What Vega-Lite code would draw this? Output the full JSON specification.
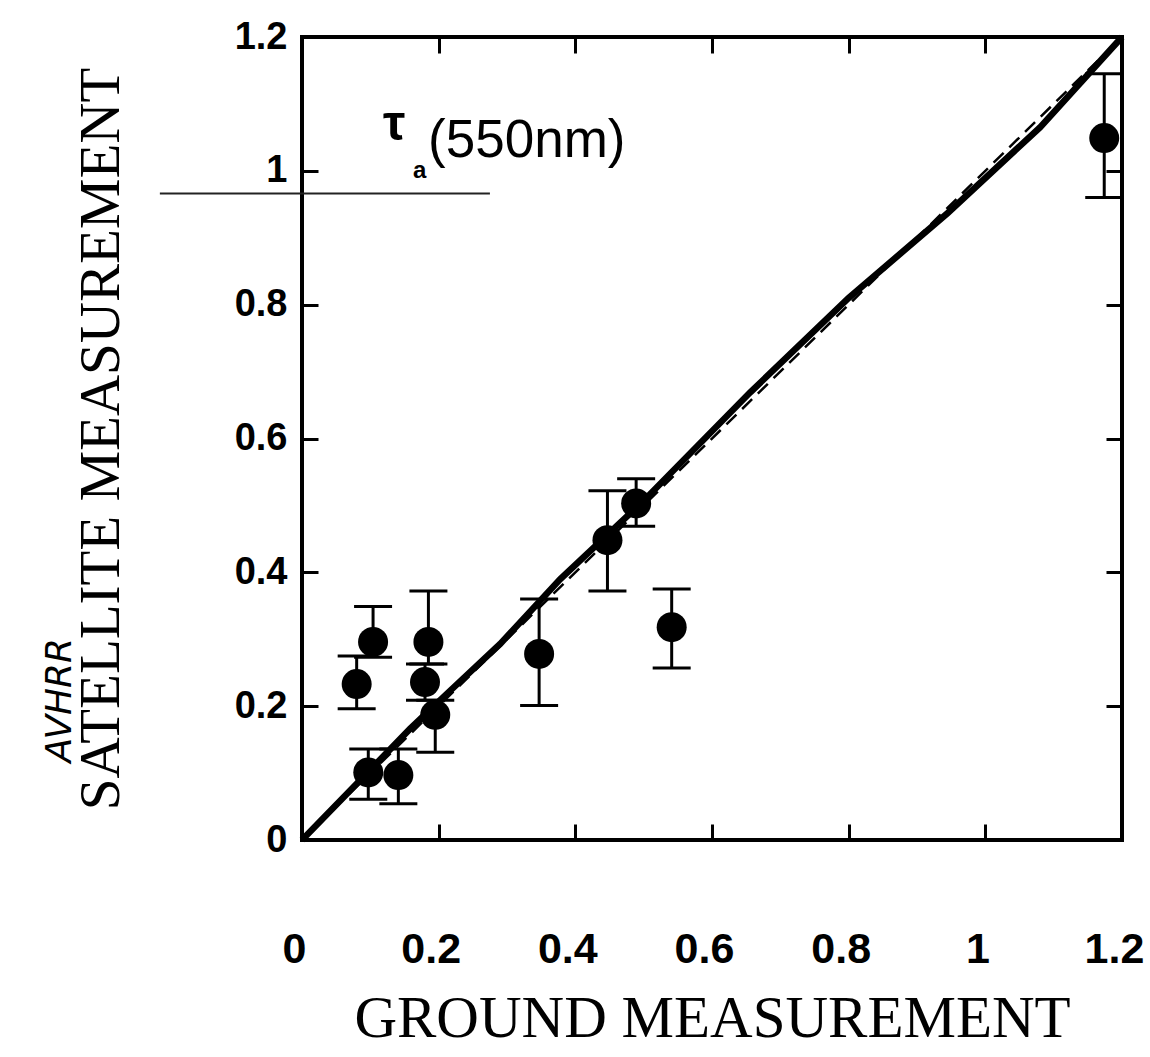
{
  "$schema": "https://vega.github.io/schema/vega-lite/v6.json",
  "autosize": "none",
  "width": 820,
  "height": 803,
  "padding": {"left": 302, "top": 37, "right": 28, "bottom": 217},
  "background": "white",
  "config": {
    "view": {"stroke": "black", "strokeWidth": 4},
    "axis": {"grid": false, "domain": false, "tickColor": "black", "tickWidth": 3, "tickSize": -16, "labelColor": "black", "titleColor": "black", "labelFlush": false}
  },
  "datasets": {
    "pts": [
      {"ground": 0.08, "sat": 0.233, "lo": 0.196, "hi": 0.275},
      {"ground": 0.104, "sat": 0.296, "lo": 0.273, "hi": 0.349},
      {"ground": 0.185, "sat": 0.296, "lo": 0.263, "hi": 0.372},
      {"ground": 0.18, "sat": 0.236, "lo": 0.209, "hi": 0.263},
      {"ground": 0.195, "sat": 0.187, "lo": 0.131, "hi": 0.209},
      {"ground": 0.097, "sat": 0.101, "lo": 0.061, "hi": 0.136},
      {"ground": 0.141, "sat": 0.097, "lo": 0.054, "hi": 0.136},
      {"ground": 0.347, "sat": 0.278, "lo": 0.201, "hi": 0.36},
      {"ground": 0.447, "sat": 0.448, "lo": 0.372, "hi": 0.522},
      {"ground": 0.489, "sat": 0.503, "lo": 0.469, "hi": 0.54},
      {"ground": 0.541, "sat": 0.318, "lo": 0.257, "hi": 0.375},
      {"ground": 1.174, "sat": 1.049, "lo": 0.96, "hi": 1.145}
    ],
    "solid": [
      {"ground": 0, "sat": 0},
      {"ground": 0.1, "sat": 0.105},
      {"ground": 0.158, "sat": 0.166},
      {"ground": 0.2, "sat": 0.207},
      {"ground": 0.29, "sat": 0.293},
      {"ground": 0.378, "sat": 0.39},
      {"ground": 0.5, "sat": 0.507},
      {"ground": 0.656, "sat": 0.669},
      {"ground": 0.8, "sat": 0.81},
      {"ground": 0.945, "sat": 0.937},
      {"ground": 1.08, "sat": 1.065},
      {"ground": 1.2, "sat": 1.2}
    ],
    "dashed": [
      {"ground": 0, "sat": 0},
      {"ground": 1.2, "sat": 1.2}
    ],
    "one": [{"k": 1}]
  },
  "layer": [
    {
      "layer": [
        {
          "data": {"name": "solid"},
          "mark": {"type": "line", "color": "black", "strokeWidth": 6.5},
          "encoding": {
            "x": {"field": "ground", "type": "quantitative",
              "scale": {"domain": [0, 1.2], "nice": false, "zero": false},
              "axis": {"values": [0, 0.2, 0.4, 0.6, 0.8, 1, 1.2], "format": "~g",
                "labelFont": "Liberation Sans", "labelFontWeight": "bold", "labelFontSize": 43,
                "labelOffset": -8, "labelPadding": 104, "title": "GROUND MEASUREMENT", "titleFont": "Liberation Serif",
                "titleFontSize": 59, "titleFontWeight": "normal", "titlePadding": 18}},
            "y": {"field": "sat", "type": "quantitative",
              "scale": {"domain": [0, 1.2], "nice": false, "zero": false},
              "axis": {"values": [0, 0.2, 0.4, 0.6, 0.8, 1, 1.2], "format": "~g",
                "labelFont": "Liberation Sans", "labelFontWeight": "bold", "labelFontSize": 38,
                "labelPadding": 31, "title": "SATELLITE MEASUREMENT", "titleFont": "Liberation Serif",
                "titleFontSize": 57, "titleFontWeight": "normal", "titlePadding": 104}}
          }
        },
        {
          "data": {"name": "pts"},
          "mark": {"type": "rule", "color": "black", "strokeWidth": 3},
          "encoding": {
            "x": {"field": "ground", "type": "quantitative"},
            "y": {"field": "lo", "type": "quantitative"},
            "y2": {"field": "hi"}
          }
        },
        {
          "data": {"name": "pts"},
          "mark": {"type": "tick", "color": "black", "opacity": 1, "orient": "horizontal", "size": 38, "thickness": 3},
          "encoding": {
            "x": {"field": "ground", "type": "quantitative"},
            "y": {"field": "lo", "type": "quantitative"}
          }
        },
        {
          "data": {"name": "pts"},
          "mark": {"type": "tick", "color": "black", "opacity": 1, "orient": "horizontal", "size": 38, "thickness": 3},
          "encoding": {
            "x": {"field": "ground", "type": "quantitative"},
            "y": {"field": "hi", "type": "quantitative"}
          }
        },
        {
          "data": {"name": "pts"},
          "mark": {"type": "circle", "color": "black", "opacity": 1, "size": 900},
          "encoding": {
            "x": {"field": "ground", "type": "quantitative"},
            "y": {"field": "sat", "type": "quantitative"}
          }
        },
        {
          "data": {"name": "one"},
          "mark": {"type": "text", "text": "τ", "font": "Liberation Sans", "fontSize": 50, "fontWeight": "bold", "align": "left", "baseline": "alphabetic", "color": "black"},
          "encoding": {"x": {"datum": 0.1186}, "y": {"datum": 1.046}}
        },
        {
          "data": {"name": "one"},
          "mark": {"type": "text", "text": "a", "font": "Liberation Sans", "fontSize": 24, "fontWeight": "bold", "align": "left", "baseline": "alphabetic", "color": "black"},
          "encoding": {"x": {"datum": 0.1625}, "y": {"datum": 0.9895}}
        },
        {
          "data": {"name": "one"},
          "mark": {"type": "text", "text": "(550nm)", "font": "Liberation Sans", "fontSize": 53, "align": "left", "baseline": "alphabetic", "color": "black"},
          "encoding": {"x": {"datum": 0.1845}, "y": {"datum": 1.021}}
        },
        {
          "data": {"name": "one"},
          "mark": {"type": "text", "text": "AVHRR", "font": "DejaVu Sans", "fontSize": 36, "fontStyle": "italic", "angle": 270, "align": "center", "baseline": "middle", "color": "black"},
          "encoding": {"x": {"datum": -0.354}, "y": {"datum": 0.209}}
        },
        {
          "data": {"name": "one"},
          "mark": {"type": "rule", "color": "#222222", "strokeWidth": 2},
          "encoding": {"x": {"datum": -0.208}, "x2": {"datum": 0.275}, "y": {"datum": 0.966}}
        }
      ]
    },
    {
      "data": {"name": "dashed"},
      "mark": {"type": "line", "color": "black", "strokeWidth": 2.5, "strokeDash": [14, 8]},
      "encoding": {
        "x": {"field": "ground", "type": "quantitative",
          "axis": {"orient": "top", "values": [0.2, 0.4, 0.6, 0.8, 1], "labels": false, "title": null}},
        "y": {"field": "sat", "type": "quantitative",
          "axis": {"orient": "right", "values": [0.2, 0.4, 0.6, 0.8, 1], "labels": false, "title": null}}
      }
    }
  ],
  "resolve": {"axis": {"x": "independent", "y": "independent"}}
}
